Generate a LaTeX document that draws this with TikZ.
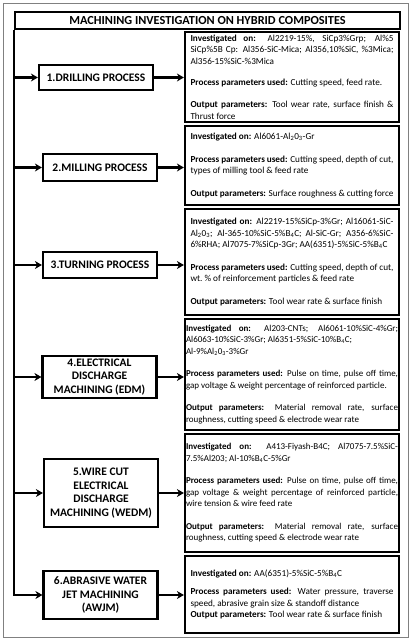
\documentclass[tikz,border=0pt]{standalone}
\usepackage{fontspec}
\setmainfont{Carlito}
\usetikzlibrary{arrows.meta}
\hyphenpenalty=10000
\begin{document}
\begin{tikzpicture}[x=1pt, y=-1pt,
        procbox/.style={draw, line width=2.2pt, align=center, inner sep=1pt, minimum width=114pt, font=\bfseries\fontsize{11.5}{13.6}\selectfont},
        infobox/.style={draw, line width=2.2pt, text width=203pt, inner xsep=5.5pt, inner ysep=1pt, minimum width=214pt, align=justify, font=\fontsize{9.2}{11.5}\selectfont},
        infowide/.style={infobox, text width=212pt, inner xsep=1pt, font=\fontsize{9}{11.5}\selectfont},
        arr/.style={line width=2.2pt, -{Stealth[length=7pt, width=8pt]}}]
                \useasboundingbox (0,0) rectangle (412,640);
                \draw[gray, line width=0.8pt] (3,3) rectangle (408,637);

                \node[draw, line width=2.2pt, minimum width=385pt, minimum height=17pt, inner sep=0pt, font=\bfseries\fontsize{12.3}{13}\selectfont] (title) at (207.5,20.5) {MACHINING INVESTIGATION ON HYBRID COMPOSITES};

                \node[procbox, minimum height=25pt] (drill) at (96,77.5) {1.DRILLING PROCESS};
                \node[procbox, minimum height=27pt] (mill) at (100,167.5) {2.MILLING PROCESS};
                \node[procbox, minimum height=26pt] (turn) at (100,265) {3.TURNING PROCESS};
                \node[procbox, minimum height=42pt] (edm) at (99.5,377) {4.ELECTRICAL\\DISCHARGE\\MACHINING (EDM)};
                \node[procbox, minimum height=68pt] (wedm) at (101,493) {5.WIRE CUT\\ELECTRICAL\\DISCHARGE\\MACHINING (WEDM)};
                \node[procbox, minimum height=48pt] (awjm) at (100.5,595) {6.ABRASIVE WATER\\JET MACHINING\\(AWJM)};

                \node[infobox, minimum height=90pt] (drillinfo) at (292,77) {\textbf{Investigated on:} Al2219-15\%, SiCp3\%Grp; Al\%5 SiCp\%5B Cp: Al356-SiC-Mica; Al356,10\%SiC, \%3Mica; Al356-15\%SiC-\%3Mica\\[9.5pt]
                \textbf{Process parameters used:} Cutting speed, feed rate.\\[11pt]
                \textbf{Output parameters:} Tool wear rate, surface finish \& Thrust force};
                \node[infobox, minimum height=79pt] (millinfo) at (292,165.5) {\textbf{Investigated on:} Al6061-Al\textsubscript{2}0\textsubscript{3}-Gr\\[11pt]
                \textbf{Process parameters used:} Cutting speed, depth of cut, types of milling tool \& feed rate\\[11pt]
                \textbf{Output parameters:} Surface roughness \& cutting force};
                \node[infobox, minimum height=106pt] (turninfo) at (292,262) {\textbf{Investigated on:} Al2219-15\%SiCp-3\%Gr; Al16061-SiC-Al\textsubscript{2}0\textsubscript{3}; Al-365-10\%SiC-5\%B\textsubscript{4}C; Al-SiC-Gr; A356-6\%SiC-6\%RHA; Al7075-7\%SiCp-3Gr; AA(6351)-5\%SiC-5\%B\textsubscript{4}C\\[11pt]
                \textbf{Process parameters used:} Cutting speed, depth of cut, wt.~\% of reinforcement particles \& feed rate\\[11pt]
                \textbf{Output parameters:} Tool wear rate \& surface finish};
                \node[infowide, minimum height=111pt] (edminfo) at (292,374.5) {\textbf{Investigated on:} Al203-CNTs; Al6061-10\%SiC-4\%Gr;\linebreak
                Al6063-10\%SiC-3\%Gr; Al6351-5\%SiC-10\%B\textsubscript{4}C;\\
                Al-9\%Al\textsubscript{2}0\textsubscript{3}-3\%Gr\\[11pt]
                \textbf{Process parameters used:} Pulse on time, pulse off time,\linebreak
                gap voltage \& weight percentage of reinforced particle.\\[11pt]
                \textbf{Output parameters:} Material removal rate, surface roughness, cutting speed \& electrode wear rate};
                \node[infowide, minimum height=118pt] (wedminfo) at (292,493) {\textbf{Investigated on:} A413-Fiyash-B4C; Al7075-7.5\%SiC-7.5\%Al203; Al-10\%B\textsubscript{4}C-5\%Gr\\[11pt]
                \textbf{Process parameters used:} Pulse on time, pulse off time,\linebreak
                gap voltage \& weight percentage of reinforced particle,\linebreak
                wire tension \& wire feed rate\\[11pt]
                \textbf{Output parameters:} Material removal rate, surface roughness, cutting speed \& electrode wear rate};
                \node[infobox, minimum height=77pt] (awjminfo) at (292,594.5) {\textbf{Investigated on:} AA(6351)-5\%SiC-5\%B\textsubscript{4}C\\[7pt]
                \textbf{Process parameters used:} Water pressure, traverse speed, abrasive grain size \& standoff distance\\
                \textbf{Output parameters:} Tool wear rate \& surface finish};

                \draw[arr] (title.south west) |- (awjm.west);
                \draw[arr] (title.south west |- drill.west) -- (drill.west);
                \draw[arr] (title.south west |- mill.west) -- (mill.west);
                \draw[arr] (title.south west |- turn.west) -- (turn.west);
                \draw[arr] (title.south west |- edm.west) -- (edm.west);
                \draw[arr] (title.south west |- wedm.west) -- (wedm.west);

                \draw[arr] (drill.east) -- (drill.east -| drillinfo.west);
                \draw[arr] (mill.east) -- (mill.east -| millinfo.west);
                \draw[arr] (turn.east) -- (turn.east -| turninfo.west);
                \draw[arr] (edm.east) -- (edm.east -| edminfo.west);
                \draw[arr] (wedm.east) -- (wedm.east -| wedminfo.west);
                \draw[arr] (awjm.east) -- (awjm.east -| awjminfo.west);
            \end{tikzpicture}
\end{document}
